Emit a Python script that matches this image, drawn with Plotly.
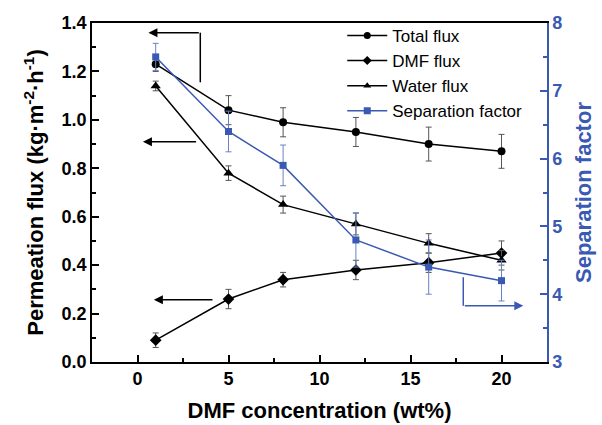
import plotly.graph_objects as go

conc = [1, 5, 8, 12, 16, 20]
total_flux = [1.23, 1.04, 0.99, 0.95, 0.90, 0.87]
total_err = [0.03, 0.06, 0.06, 0.06, 0.07, 0.07]
dmf_flux = [0.09, 0.26, 0.34, 0.38, 0.41, 0.45]
dmf_err = [0.03, 0.04, 0.03, 0.04, 0.04, 0.05]
water_flux = [1.14, 0.78, 0.65, 0.57, 0.49, 0.42]
water_err = [0.02, 0.03, 0.035, 0.045, 0.04, 0.04]
sep_factor = [7.50, 6.40, 5.90, 4.80, 4.40, 4.20]
sep_err = [0.2, 0.3, 0.3, 0.4, 0.4, 0.3]

BLUE = "#3a59b3"
FONT = "Arial, Liberation Sans, sans-serif"

fig = go.Figure()
series = [
    ("Total flux", total_flux, total_err, "circle", 8, "black", "y"),
    ("DMF flux", dmf_flux, dmf_err, "diamond", 9, "black", "y"),
    ("Water flux", water_flux, water_err, "triangle-up", 9, "black", "y"),
    ("Separation factor", sep_factor, sep_err, "square", 7, BLUE, "y2"),
]
for name, vals, errs, sym, size, col, ax in series:
    errcol = "#555555" if col == "black" else "#6a80c8"
    fig.add_trace(go.Scatter(x=conc, y=vals, name=name, mode="lines+markers", yaxis=ax,
                             showlegend=False,
                             line=dict(color=col, width=1.5),
                             marker=dict(symbol=sym, size=size, color=col),
                             error_y=dict(array=errs, type="data", thickness=1, width=3, color=errcol)))
# legend entries with smaller markers
for name, vals, errs, sym, size, col, ax in series:
    fig.add_trace(go.Scatter(x=[None], y=[None], name=name, mode="lines+markers", yaxis=ax,
                             line=dict(color=col, width=1.5),
                             marker=dict(symbol=sym, size=7, color=col)))

# bracket arrows (annotation guides)
fig.add_shape(type="line", xref="x", yref="y", x0=3.45, x1=3.45, y0=1.155, y1=1.36,
              line=dict(color="black", width=1.5))
fig.add_annotation(x=0.6, y=1.36, ax=3.45, ay=1.36, xref="x", yref="y", axref="x", ayref="y",
                   text="", showarrow=True, arrowhead=2, arrowsize=1.2, arrowwidth=1.5, arrowcolor="black")
fig.add_annotation(x=0.3, y=0.91, ax=3.3, ay=0.91, xref="x", yref="y", axref="x", ayref="y",
                   text="", showarrow=True, arrowhead=2, arrowsize=1.2, arrowwidth=1.5, arrowcolor="black")
fig.add_annotation(x=0.9, y=0.257, ax=4.2, ay=0.257, xref="x", yref="y", axref="x", ayref="y",
                   text="", showarrow=True, arrowhead=2, arrowsize=1.2, arrowwidth=1.5, arrowcolor="black")
fig.add_shape(type="line", xref="x", yref="y", x0=17.9, x1=17.9, y0=0.35, y1=0.232,
              line=dict(color=BLUE, width=1.5))
fig.add_annotation(x=21.2, y=0.232, ax=17.9, ay=0.232, xref="x", yref="y", axref="x", ayref="y",
                   text="", showarrow=True, arrowhead=2, arrowsize=1.2, arrowwidth=1.5, arrowcolor=BLUE)

fig.update_layout(
    width=602, height=425,
    margin=dict(l=92, r=55, t=23, b=63),
    paper_bgcolor="white", plot_bgcolor="white",
    font=dict(family=FONT, color="black"),
    showlegend=True,
    legend=dict(x=0.55, y=1.015, xanchor="left", yanchor="top", bgcolor="rgba(0,0,0,0)",
                font=dict(size=17, family=FONT), tracegroupgap=0, itemwidth=40),
    xaxis=dict(range=[-2.5, 22.5], tickvals=[0, 5, 10, 15, 20], automargin=False,
               ticks="inside", ticklen=7, tickwidth=1.5, tickcolor="black",
               minor=dict(ticks="inside", ticklen=4, tickwidth=1.5, dtick=2.5, tick0=0, tickcolor="black"),
               showline=True, linecolor="black", linewidth=1.5, mirror=True,
               showgrid=False, zeroline=False,
               tickfont=dict(size=18, family=FONT, weight="bold"),
               title=dict(text="<b>DMF concentration (wt%)</b>", font=dict(size=22, family=FONT), standoff=14)),
    yaxis=dict(range=[0, 1.4], dtick=0.2, tickformat=".1f", automargin=False,
               ticks="inside", ticklen=7, tickwidth=1.5, tickcolor="black",
               minor=dict(ticks="inside", ticklen=4, tickwidth=1.5, dtick=0.1, tickcolor="black"),
               showline=True, linecolor="black", linewidth=1.5,
               showgrid=False, zeroline=False,
               tickfont=dict(size=18, family=FONT, weight="bold"),
               title=dict(text="<b>Permeation flux (kg·m<sup>-2</sup>·h<sup>-1</sup>)</b>",
                          font=dict(size=22, family=FONT), standoff=12)),
    yaxis2=dict(range=[3, 8], dtick=1, overlaying="y", side="right", automargin=False,
                ticks="inside", ticklen=7, tickwidth=1.5, tickcolor=BLUE,
                minor=dict(ticks="inside", ticklen=4, tickwidth=1.5, dtick=0.5, tickcolor=BLUE),
                showline=True, linecolor=BLUE, linewidth=1.5,
                showgrid=False, zeroline=False,
                tickfont=dict(size=18, family=FONT, color=BLUE, weight="bold"),
                title=dict(text="<b>Separation factor</b>", font=dict(size=22, family=FONT, color=BLUE), standoff=14)),
)

fig.write_html("out.html")
